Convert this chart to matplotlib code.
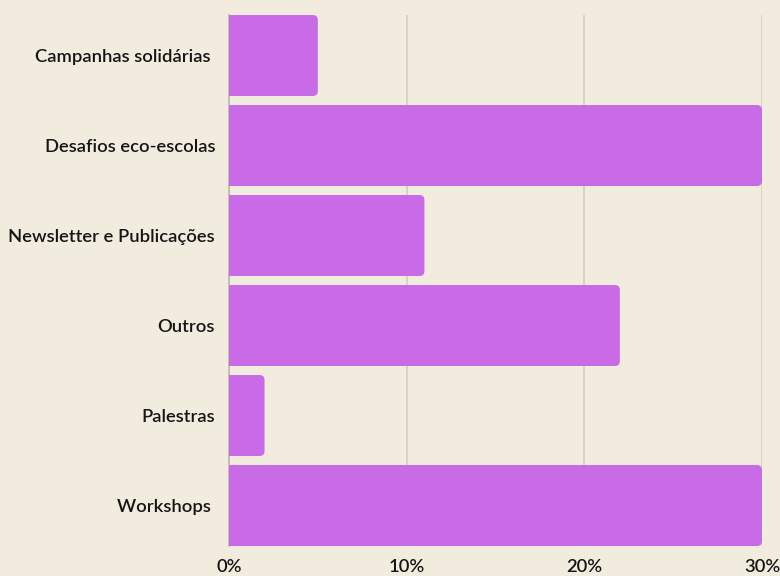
import matplotlib.pyplot as plt
from matplotlib.patches import FancyBboxPatch

categories = ['Campanhas solidárias ', 'Desafios eco-escolas', 'Newsletter e Publicações',
              'Outros', 'Palestras', 'Workshops ']
values = [5, 30, 11, 22, 2, 30]

bg = '#F2ECDF'
bar_color = '#C96BE6'

fig = plt.figure(figsize=(7.8, 5.76), dpi=100, facecolor=bg)
ax = fig.add_axes([229 / 780, 30 / 576, 533 / 780, 531 / 576])
ax.set_facecolor(bg)

ypos = list(range(len(categories)))[::-1]
h = 0.9
xlim = (0, 30)
ylim = (-0.45, 5.45)
ax.set_xlim(*xlim)
ax.set_ylim(*ylim)

# px per unit in each direction, for round corners
px_x = 533 / (xlim[1] - xlim[0])
px_y = 531 / (ylim[1] - ylim[0])
r = 5 / px_x
aspect = px_x / px_y

for y, v in zip(ypos, values):
    p = FancyBboxPatch((-1, y - h / 2), v + 1, h,
                       boxstyle=f'round,pad=0,rounding_size={r}',
                       mutation_aspect=aspect, fc=bar_color, ec='none', zorder=3)
    ax.add_patch(p)

ax.set_xticks([0, 10, 20, 30])
ax.set_xticklabels(['0%', '10%', '20%', '30%'])
ax.set_yticks(ypos)
ax.set_yticklabels(categories)
ax.grid(axis='x', color='#D3CEC3', linewidth=1.2, zorder=0)
ax.tick_params(length=0, labelsize=13.2, colors='#151515')
ax.tick_params(axis='y', pad=10)
ax.tick_params(axis='x', pad=9)
for lab in ax.get_xticklabels() + ax.get_yticklabels():
    lab.set_family('Lato')
    lab.set_weight('semibold')
for s in ['top', 'right', 'bottom']:
    ax.spines[s].set_visible(False)
ax.spines['left'].set_color('#BDB8AE')
ax.spines['left'].set_linewidth(1.2)

fig.savefig('out.png', dpi=100, facecolor=bg)
